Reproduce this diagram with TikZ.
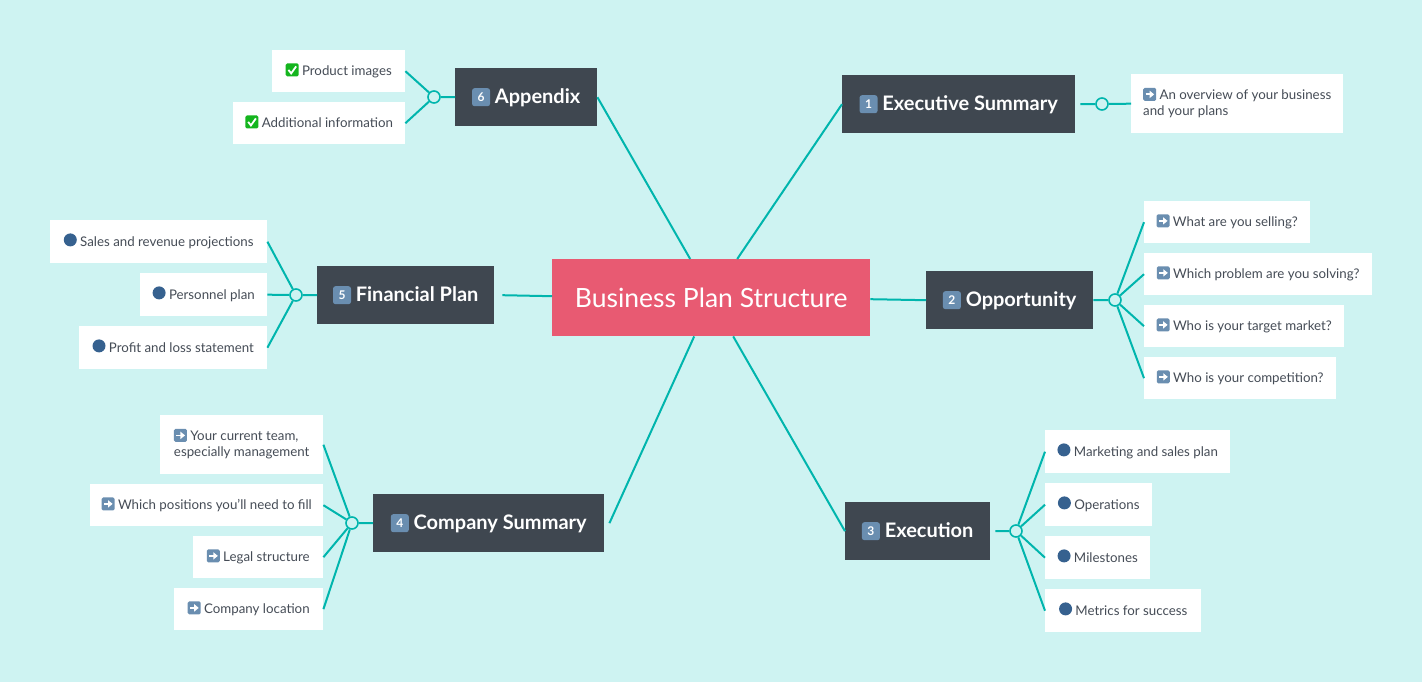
\documentclass[tikz,border=0pt]{standalone}
\usepackage{fontspec}
\setmainfont{Lato}
\usetikzlibrary{calc}
\definecolor{pagebg}{HTML}{CEF3F2}
\definecolor{trunk}{HTML}{00B5AD}
\definecolor{rootred}{HTML}{E85A72}
\definecolor{slate}{HTML}{3F4750}
\definecolor{leafink}{HTML}{454C56}
\definecolor{capblue}{HTML}{6A8EB0}
\definecolor{dotblue}{HTML}{36618F}
\definecolor{tickgreen}{HTML}{14B51E}
\tikzset{
    rootbox/.style={anchor=north west, fill=rootred, text=white, font=\fontsize{26.5}{30}\selectfont,
        minimum width=318pt, minimum height=77pt, inner sep=0pt},
    branchbox/.style={anchor=north west, fill=slate, text=white, font=\fontsize{20}{24}\selectfont\bfseries,
        minimum height=58pt, inner sep=0pt, text height=16pt, text depth=3pt},
    leafbox/.style={anchor=north west, fill=white, text=leafink, font=\fontsize{13.3}{16}\selectfont,
        minimum height=42pt, inner sep=0pt, text depth=3.6pt},
    joint/.style={circle, draw=trunk, line width=1.6pt, minimum size=12pt, inner sep=0pt},
    link/.style={draw=trunk, line width=2pt},
}
% small pictures that stand in for the emoji
\newcommand{\keycap}[1]{\tikz[baseline=-6.5pt]{\node[anchor=center, fill=capblue, rounded corners=2.5pt, text=white,
    minimum size=18pt, minimum width=18pt, inner sep=0pt, text height=, text depth=,
    font=\fontsize{12}{12}\selectfont\bfseries] (capglyph) {#1};}}
\newcommand{\arrowicon}{\tikz[baseline=1pt]{
    \fill[capblue, rounded corners=1.5pt] (0pt,0pt) rectangle (13pt,13pt);
    \draw[white, line width=1.8pt] (2.5pt,6.5pt) -- (7pt,6.5pt);
    \fill[white] (6.5pt,2.8pt) -- (11pt,6.5pt) -- (6.5pt,10.2pt) -- cycle;}}
\newcommand{\tickicon}{\tikz[baseline=1pt]{
    \fill[tickgreen, rounded corners=1.5pt] (0pt,0pt) rectangle (13pt,13pt);
    \draw[white, line width=1.8pt] (2.8pt,6.5pt) -- (5.5pt,3pt) -- (10.5pt,10pt);}}
\newcommand{\doticon}{\tikz[baseline=0pt]{\fill[dotblue] (6.5pt,6.5pt) circle [radius=6.5pt];}}

\begin{document}
\begin{tikzpicture}[x=1pt, y=-1pt]
    \fill [pagebg] (0,0) rectangle (1422,682);
    \useasboundingbox (0,0) rectangle (1422,682);
    % centre
    \node [rootbox] (plan) at (552,259) {Business Plan Structure};
    % branches
    \node [branchbox, minimum width=233pt] (summary) at (842,75) {\keycap{1} Executive Summary};
    \node [branchbox, minimum width=167pt] (opportunity) at (926,271) {\keycap{2} Opportunity};
    \node [branchbox, minimum width=145pt] (execution) at (845,502) {\keycap{3} Execution};
    \node [branchbox, minimum width=231pt] (company) at (373,494) {\keycap{4} Company Summary};
    \node [branchbox, minimum width=177pt] (financial) at (317,266) {\keycap{5} Financial Plan};
    \node [branchbox, minimum width=142pt] (appendix) at (455,68) {\keycap{6} Appendix};
    % joints
    \node [joint] (jsummary) at (1102,104) {};
    \node [joint] (jopportunity) at (1115,300) {};
    \node [joint] (jexecution) at (1016,531) {};
    \node [joint] (jcompany) at (352,523) {};
    \node [joint] (jfinancial) at (296,295) {};
    \node [joint] (jappendix) at (434,97) {};
    % leaves
    \node [leafbox, minimum width=212pt, minimum height=59pt, align=left] (overview) at (1131,74)
        {\arrowicon\ An overview of your business\\and your plans};
    \node [leafbox, minimum width=166pt] (selling) at (1144,201) {\arrowicon\ What are you selling?};
    \node [leafbox, minimum width=228pt] (problem) at (1144,253) {\arrowicon\ Which problem are you solving?};
    \node [leafbox, minimum width=200pt] (market) at (1144,305) {\arrowicon\ Who is your target market?};
    \node [leafbox, minimum width=192pt] (competition) at (1144,357) {\arrowicon\ Who is your competition?};
    \node [leafbox, minimum width=185pt, minimum height=43pt] (marketing) at (1045,430) {\doticon\ Marketing and sales plan};
    \node [leafbox, minimum width=107pt, minimum height=43pt] (operations) at (1045,483) {\doticon\ Operations};
    \node [leafbox, minimum width=105pt, minimum height=43pt] (milestones) at (1045,536) {\doticon\ Milestones};
    \node [leafbox, minimum width=156pt, minimum height=43pt] (metrics) at (1045,589) {\doticon\ Metrics for success};
    \node [leafbox, minimum width=163pt, minimum height=59pt, align=left] (team) at (160,415)
        {\arrowicon\ Your current team,\\especially management};
    \node [leafbox, minimum width=233pt] (positions) at (90,484) {\arrowicon\ Which positions you'll need to fill};
    \node [leafbox, minimum width=130pt] (legal) at (193,536) {\arrowicon\ Legal structure};
    \node [leafbox, minimum width=149pt] (location) at (174,588) {\arrowicon\ Company location};
    \node [leafbox, minimum width=217pt, minimum height=43pt] (sales) at (50,220) {\doticon\ Sales and revenue projections};
    \node [leafbox, minimum width=127pt, minimum height=43pt] (personnel) at (140,273) {\doticon\ Personnel plan};
    \node [leafbox, minimum width=188pt, minimum height=43pt] (profit) at (79,326) {\doticon\ Profit and loss statement};
    \node [leafbox, minimum width=133pt] (images) at (272,50) {\tickicon\ Product images};
    \node [leafbox, minimum width=172pt] (additional) at (233,102) {\tickicon\ Additional information};
    % centre to branches
    \draw [link] ($(plan.north)+(26,0)$) -- (summary.west);
    \draw [link] ($(plan.east)+(0,1.5)$) -- (opportunity.west);
    \draw [link] ($(plan.south)+(22,0)$) -- (execution.west);
    \draw [link] ($(plan.south)+(-17,0)$) -- ($(company.east)+(5,0)$);
    \draw [link] ($(plan.west)+(0,-1.5)$) -- ($(financial.east)+(8,0)$);
    \draw [link] ($(plan.north)+(-21,0)$) -- (appendix.east);
    % branches to joints
    \draw [link] ($(summary.east)+(5,0)$) -- (jsummary);
    \draw [link] (opportunity.east) -- (jopportunity);
    \draw [link] ($(execution.east)+(5,0)$) -- (jexecution);
    \draw [link] (company.west) -- (jcompany);
    \draw [link] (financial.west) -- (jfinancial);
    \draw [link] (appendix.west) -- (jappendix);
    % joints to leaves
    \draw [link] (jsummary) -- (overview.west);
    \foreach \leaf in {selling,problem,market,competition} {%
        \draw [link] (jopportunity) -- (\leaf.west);
    }
    \foreach \leaf in {marketing,operations,milestones,metrics} {%
        \draw [link] (jexecution) -- (\leaf.west);
    }
    \foreach \leaf in {team,positions,legal,location} {%
        \draw [link] (jcompany) -- (\leaf.east);
    }
    \foreach \leaf in {sales,personnel,profit} {%
        \draw [link] (jfinancial) -- (\leaf.east);
    }
    \foreach \leaf in {images,additional} {%
        \draw [link] (jappendix) -- (\leaf.east);
    }
\end{tikzpicture}
\end{document}
